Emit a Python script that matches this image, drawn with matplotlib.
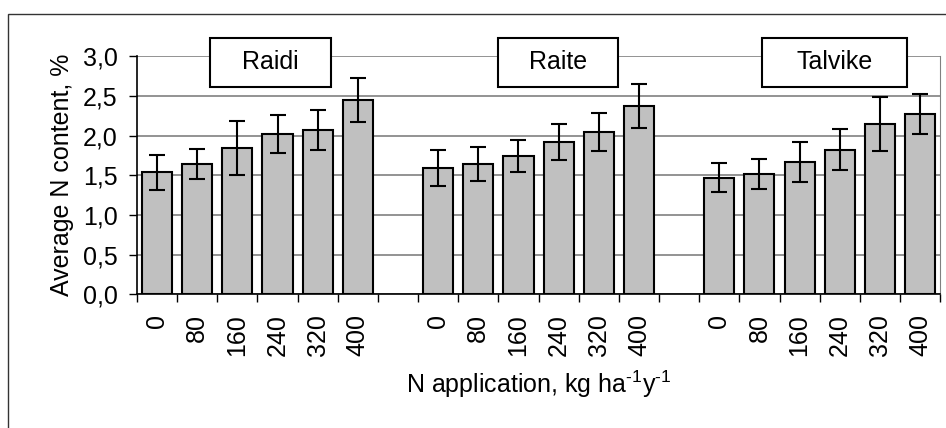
import matplotlib.pyplot as plt
from matplotlib.patches import Rectangle
from matplotlib.ticker import FixedLocator

plt.rcParams['font.family'] = ['Liberation Sans', 'DejaVu Sans']
plt.rcParams['mathtext.fontset'] = 'custom'
plt.rcParams['mathtext.rm'] = 'Liberation Sans'
plt.rcParams['mathtext.it'] = 'Liberation Sans'

# data
varieties = ["Raidi", "Raite", "Talvike"]
rates = ["0", "80", "160", "240", "320", "400"]
raidi = [1.54, 1.64, 1.84, 2.02, 2.07, 2.45]
raidi_err = [0.22, 0.19, 0.34, 0.24, 0.25, 0.28]
raite = [1.59, 1.64, 1.74, 1.92, 2.04, 2.37]
raite_err = [0.23, 0.21, 0.20, 0.23, 0.24, 0.28]
talvike = [1.47, 1.52, 1.67, 1.82, 2.14, 2.27]
talvike_err = [0.18, 0.19, 0.25, 0.26, 0.34, 0.25]
yticks = [0.0, 0.5, 1.0, 1.5, 2.0, 2.5, 3.0]

FS = 18

fig = plt.figure(figsize=(9.46, 4.28), dpi=100)
ax = fig.add_axes([0.1448, 0.312, 0.849, 0.557])

# outer frame of the chart
fig.patches.append(Rectangle((8 / 946, -0.5), 2, 1.5 - 14 / 428, transform=fig.transFigure,
                             fill=False, edgecolor="#333333", linewidth=1.0))

# label boxes (x0, x1 in category units)
box_x = [(1.32, 4.33), (8.49, 11.48), (15.07, 18.68)]

groups = [raidi, raite, talvike]
errs = [raidi_err, raite_err, talvike_err]
xs_all = []
labels_all = []
for g, (vals, err) in enumerate(zip(groups, errs)):
    xs = [g * 7 + i for i in range(len(vals))]
    ax.bar(xs, vals, width=0.75, color="#c0c0c0", edgecolor="black", linewidth=1.5, zorder=3)
    ax.errorbar(xs, vals, yerr=err, fmt="none", ecolor="black", elinewidth=1.5,
                capsize=6, capthick=1.5, zorder=4)
    xs_all += xs
    labels_all += rates
    x0, x1 = box_x[g]
    ax.add_patch(Rectangle((x0, 2.61), x1 - x0, 0.62, facecolor="white", edgecolor="black",
                           linewidth=1.5, zorder=5, clip_on=False))
    ax.text((x0 + x1) / 2, 2.92, varieties[g], ha="center", va="center", fontsize=FS,
            zorder=6, clip_on=False)

ax.set_xlim(-0.5, 19.5)
ax.set_ylim(0, 3.0)
ax.set_yticks(yticks)
ax.set_yticklabels([f"{v:.1f}".replace(".", ",") for v in yticks], fontsize=FS)
ax.set_xticks(xs_all)
ax.set_xticklabels(labels_all, rotation=90, fontsize=FS)
ax.tick_params(axis="x", which="major", length=0, pad=14)
ax.xaxis.set_minor_locator(FixedLocator([i - 0.5 for i in range(21)]))
ax.tick_params(axis="x", which="minor", length=6, width=1, direction="out")
ax.tick_params(axis="y", length=6, width=1, direction="out", pad=8)

ax.grid(axis="y", color="#808080", linewidth=1.2, zorder=0)
ax.set_axisbelow(True)
ax.spines["top"].set_visible(False)
ax.spines["right"].set_color("#808080")
ax.spines["left"].set_linewidth(1.2)
ax.spines["bottom"].set_linewidth(1.2)

ax.set_ylabel("Average N content, %", fontsize=FS, labelpad=6)
ax.set_xlabel("N application, kg ha$^{\\mathrm{\u20101}}$y$^{\\mathrm{\u20101}}$", fontsize=FS, labelpad=9)

fig.savefig("out.png", dpi=100)
